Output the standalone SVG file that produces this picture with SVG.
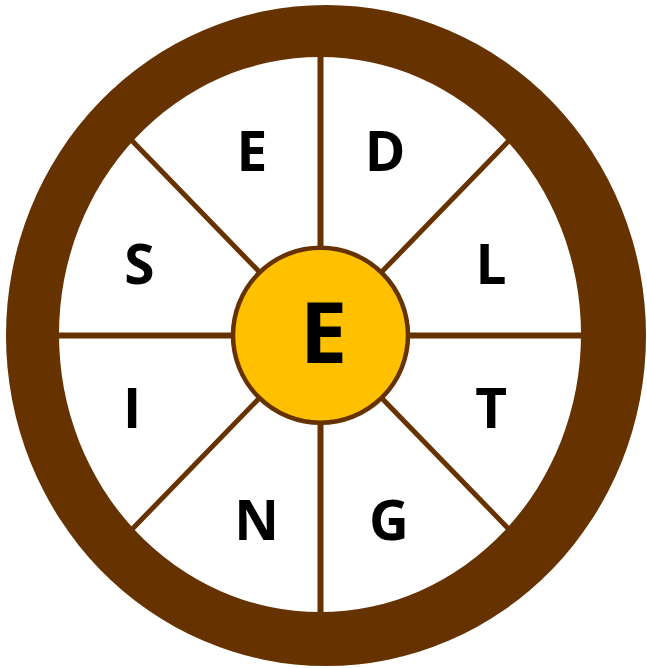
<svg xmlns="http://www.w3.org/2000/svg" width="647" height="668" viewBox="0 0 647 668">
  <style>
    .spoke { stroke: #663300; stroke-width: 6; fill: none; }
    .diag { stroke: #663300; stroke-width: 5; fill: none; }
    .lbl { font-family: "Open Sans", "Noto Sans", sans-serif; font-weight: bold; font-size: 55px; fill: #000000; text-anchor: middle; }
    .hub { font-family: "Open Sans", "Noto Sans", sans-serif; font-weight: bold; font-size: 85px; fill: #000000; text-anchor: middle; }
  </style>
  <rect width="647" height="668" fill="#ffffff"/>
  <g id="connectors">
    <line class="spoke" x1="320.5" y1="30" x2="320.5" y2="640"/>
    <line class="spoke" x1="30" y1="335.5" x2="610" y2="335.5"/>
    <line class="diag" x1="110" y1="118" x2="531" y2="552"/>
    <line class="diag" x1="531" y1="118" x2="110" y2="552"/>
  </g>
  <g id="rim">
    <path fill="#663300" fill-rule="evenodd" d="M6,335.5 A320,330.5 0 1,0 646,335.5 A320,330.5 0 1,0 6,335.5 Z M59,334.5 A261,277.5 0 1,1 581,334.5 A261,277.5 0 1,1 59,334.5 Z"/>
  </g>
  <g id="hub">
    <circle cx="320.5" cy="335.3" r="87.5" fill="#FFC000" stroke="#663300" stroke-width="4.5"/>
    <text class="hub" x="323.5" y="362.7">E</text>
  </g>
  <g id="seg-E"><text class="lbl" x="252" y="171">E</text></g>
  <g id="seg-D"><text class="lbl" x="385" y="171">D</text></g>
  <g id="seg-L"><text class="lbl" x="491" y="284">L</text></g>
  <g id="seg-T"><text class="lbl" x="491.3" y="428">T</text></g>
  <g id="seg-G"><text class="lbl" x="389" y="539.5">G</text></g>
  <g id="seg-N"><text class="lbl" x="256.7" y="539.5">N</text></g>
  <g id="seg-I"><text class="lbl" x="132" y="428">I</text></g>
  <g id="seg-S"><text class="lbl" x="139.4" y="283.5">S</text></g>
</svg>
